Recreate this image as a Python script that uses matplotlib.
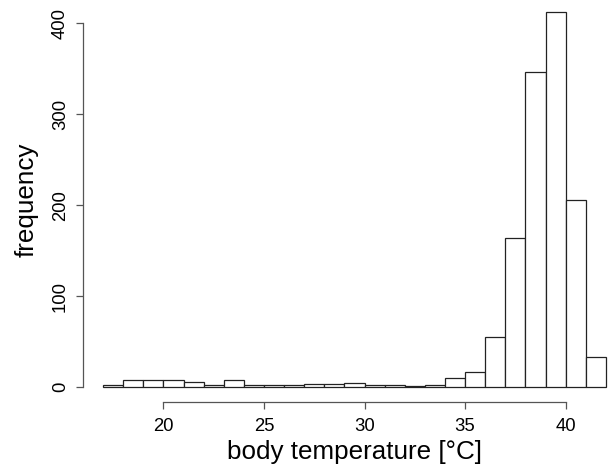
import matplotlib
matplotlib.use("Agg")
import matplotlib.pyplot as plt

bin_edges = list(range(17, 43))
counts = [2, 8, 8, 8, 6, 2, 8, 3, 2, 2, 4, 4, 5, 3, 3, 1, 2, 10, 17,
          55, 164, 346, 412, 206, 33]
x_ticks = [20, 25, 30, 35, 40]
y_ticks = [0, 100, 200, 300, 400]

plt.rcParams['font.family'] = ['Liberation Sans', 'DejaVu Sans']

fig = plt.figure(figsize=(6.09, 4.69), dpi=100)
ax = fig.add_axes([0.1363, 0.1422, 0.8916, 0.8635])

ax.bar(bin_edges[:-1], counts, width=1, align='edge', color='white',
       edgecolor='#222222', linewidth=0.9)

ax.set_xlim(16, 43)
ax.set_ylim(-16.5, 428.5)

for s in ['top', 'right']:
    ax.spines[s].set_visible(False)
ax.spines['left'].set_bounds(0, 400)
ax.spines['bottom'].set_bounds(20, 40)
for s in ['left', 'bottom']:
    ax.spines[s].set_color('#555555')
    ax.spines[s].set_linewidth(0.9)

ax.set_xticks(x_ticks)
ax.set_yticks(y_ticks)
ax.tick_params(axis='both', length=5, width=0.9, color='#555555',
               labelsize=13.3)
ax.tick_params(axis='x', pad=6)
ax.tick_params(axis='y', pad=5)
for lab in ax.get_yticklabels():
    lab.set_rotation(90)
    lab.set_va('center')

ax.set_xlabel('body temperature [°C]', fontsize=18.7, labelpad=4)
ax.set_ylabel('frequency', fontsize=18.7, labelpad=10)

fig.savefig('out.png', dpi=100)
